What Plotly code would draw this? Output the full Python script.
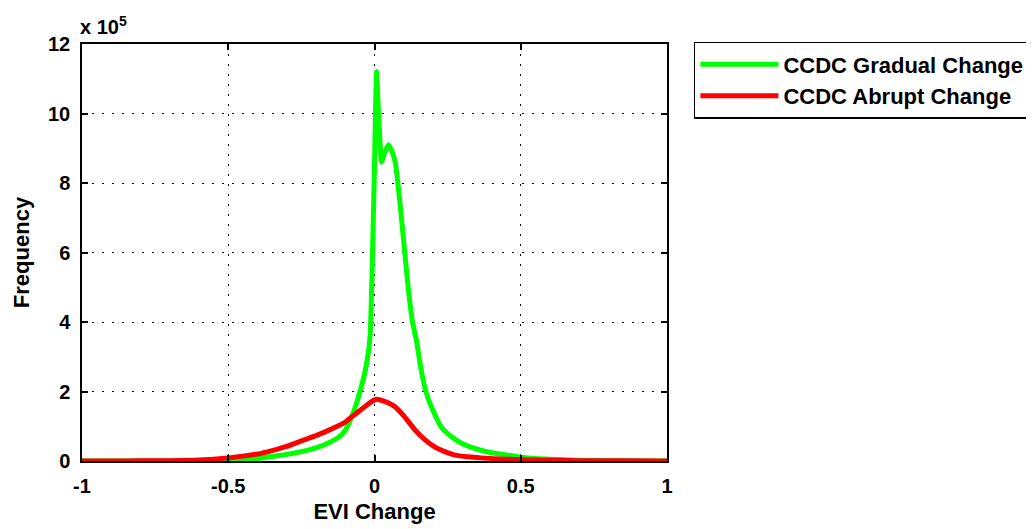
import plotly.graph_objects as go

# EVI change (x) and frequency in units of 1e5
x_gradual = [-1, -0.9, -0.8, -0.7, -0.6, -0.5, -0.45, -0.4, -0.35, -0.3, -0.25, -0.2, -0.15,
             -0.12, -0.1, -0.078, -0.06, -0.037, -0.025, -0.015, -0.008, 0.0, 0.007, 0.015,
             0.024, 0.036, 0.048, 0.06, 0.071, 0.085, 0.1, 0.115, 0.13, 0.143, 0.16, 0.177,
             0.2, 0.228, 0.26, 0.296, 0.34, 0.388, 0.45, 0.5, 0.55, 0.6, 0.7, 0.8, 0.9, 1.0]
y_gradual = [0, 0, 0, 0, 0.0, 0.01, 0.03, 0.07, 0.13, 0.19, 0.27, 0.38, 0.55,
             0.7, 0.88, 1.27, 1.7, 2.4, 2.9, 3.6, 5.5, 8.5, 11.2, 9.8,
             8.6, 8.9, 9.1, 8.9, 8.6, 7.6, 6.3, 5.0, 4.0, 3.48, 2.6, 1.96,
             1.45, 0.98, 0.72, 0.52, 0.37, 0.26, 0.17, 0.11, 0.07, 0.05, 0.02, 0.01, 0, 0]

x_abrupt = [-1, -0.9, -0.8, -0.7, -0.6, -0.5, -0.45, -0.4, -0.35, -0.3, -0.25, -0.2, -0.15,
            -0.1, -0.078, -0.05, -0.02, 0.0, 0.01, 0.03, 0.05, 0.07, 0.1, 0.139, 0.17,
            0.207, 0.24, 0.275, 0.32, 0.364, 0.45, 0.55, 0.7, 0.85, 1.0]
y_abrupt = [0, 0, 0.005, 0.01, 0.03, 0.09, 0.14, 0.2, 0.3, 0.42, 0.58, 0.73, 0.91,
            1.12, 1.27, 1.45, 1.65, 1.76, 1.78, 1.73, 1.66, 1.56, 1.3, 0.89, 0.63,
            0.40, 0.27, 0.17, 0.12, 0.09, 0.05, 0.03, 0.01, 0.005, 0]

x_ticks = [-1, -0.5, 0, 0.5, 1]
x_tick_labels = ["-1", "-0.5", "0", "0.5", "1"]
y_ticks = [0, 2, 4, 6, 8, 10, 12]
y_tick_labels = ["0", "2", "4", "6", "8", "10", "12"]

FONT = "Liberation Sans, Arial, sans-serif"

fig = go.Figure()
fig.add_trace(go.Scatter(x=x_gradual, y=y_gradual, mode="lines", name="<b>CCDC Gradual Change</b>",
                         line=dict(color="#00FF00", width=5, shape="spline", smoothing=0.4)))
fig.add_trace(go.Scatter(x=x_abrupt, y=y_abrupt, mode="lines", name="<b>CCDC Abrupt Change</b>",
                         line=dict(color="#FF0000", width=5, shape="spline", smoothing=0.6)))

axis_common = dict(showline=True, linecolor="black", linewidth=1.5, mirror="ticks",
                   ticks="inside", ticklen=6, tickcolor="black", tickwidth=1.5,
                   showgrid=True, gridcolor="black", griddash="2px,8px", gridwidth=1,
                   zeroline=False, automargin=False, ticklabelstandoff=6,
                   tickfont=dict(family=FONT, size=20, color="black", weight="bold"))

fig.update_xaxes(range=[-1, 1], tickvals=x_ticks, ticktext=x_tick_labels,
                 title=dict(text="EVI Change", font=dict(family=FONT, size=22, color="black", weight="bold"), standoff=8),
                 **axis_common)
fig.update_yaxes(range=[0, 12], tickvals=y_ticks, ticktext=y_tick_labels,
                 title=dict(text="Frequency", font=dict(family=FONT, size=22, color="black", weight="bold"), standoff=12),
                 **axis_common)

fig.add_annotation(text="<b>x 10<sup>5</sup></b>", xref="paper", yref="paper", x=0, y=1.0,
                   xanchor="left", yanchor="bottom", showarrow=False,
                   font=dict(family=FONT, size=20, color="black"), yshift=4, xshift=-4)

# page body has an 8px margin, so the figure is offset by 8px; margins compensate
fig.update_layout(
    width=1034, height=529,
    margin=dict(l=74, r=372, t=36, b=76),
    paper_bgcolor="white", plot_bgcolor="white",
    showlegend=True,
    legend=dict(x=1.046, y=1.005, xanchor="left", yanchor="top",
                bordercolor="black", borderwidth=1.5, bgcolor="white",
                font=dict(family=FONT, size=22, color="black"),
                tracegroupgap=0, itemwidth=78),
)

fig.write_html("out.html")
